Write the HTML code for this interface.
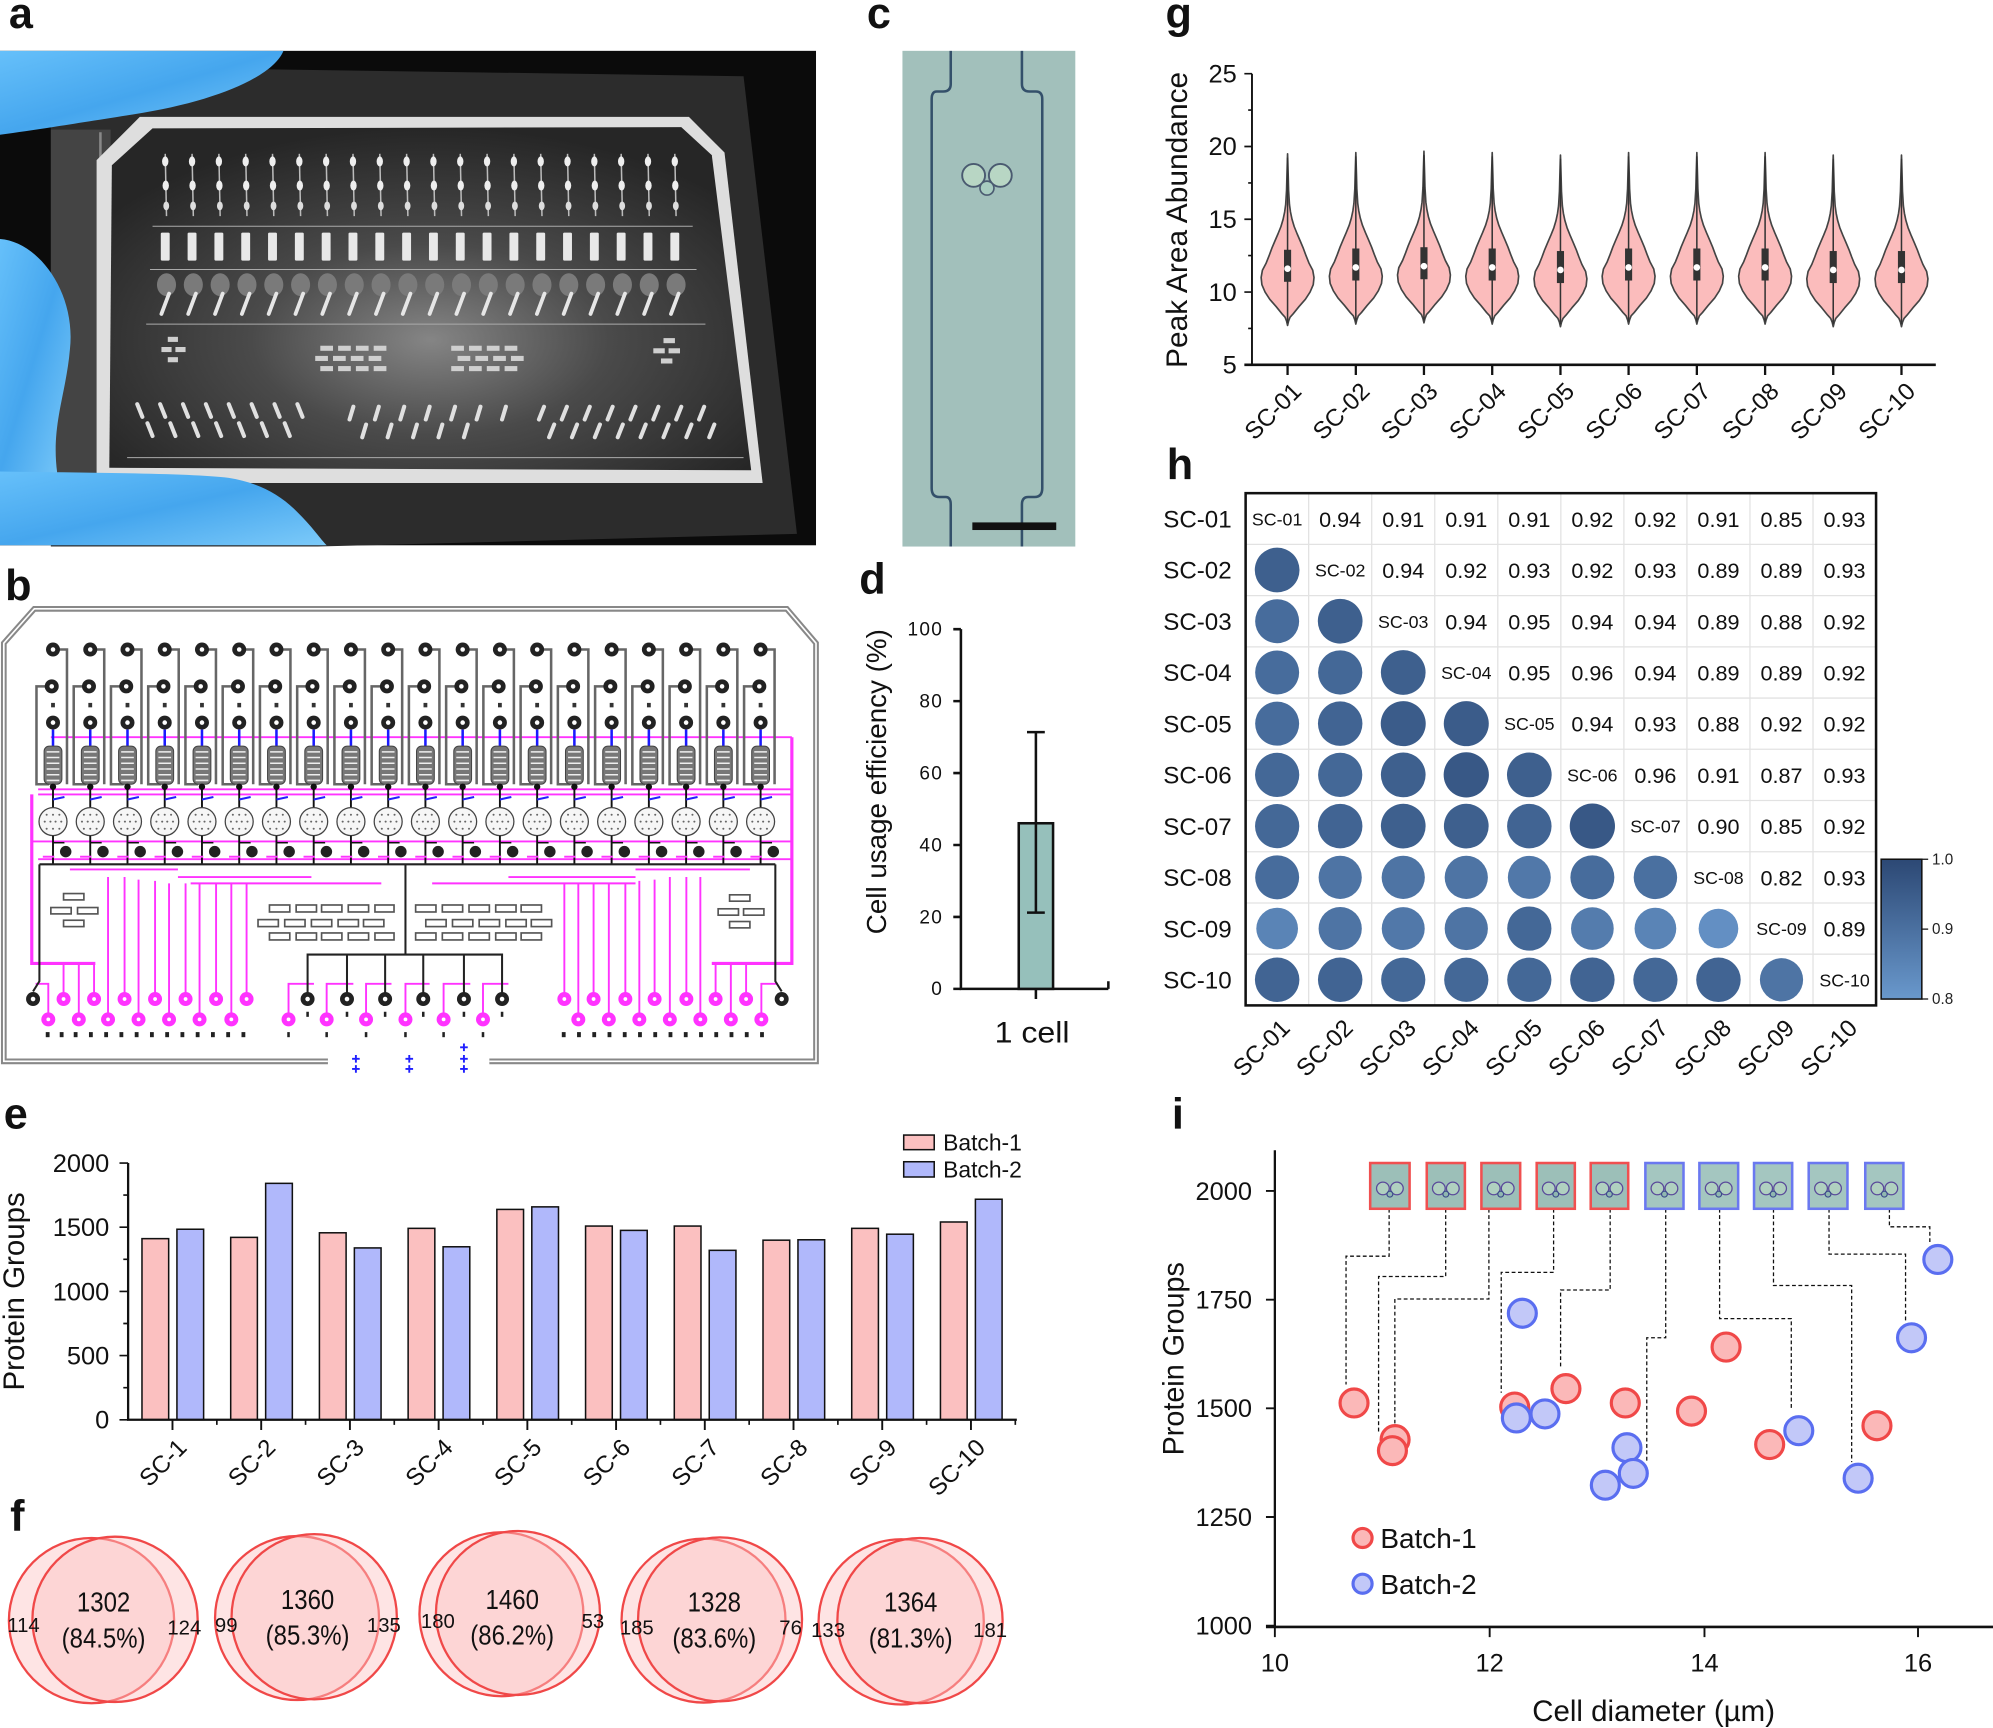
<!DOCTYPE html>
<html><head><meta charset="utf-8"><style>
html,body{margin:0;padding:0;background:#fff;overflow:hidden}
svg{display:block}
.n{font-family:"Liberation Sans Narrow","Liberation Sans",sans-serif}
.s{font-family:"Liberation Sans",sans-serif}
.L{font-family:"Liberation Sans",sans-serif;font-weight:bold;font-size:34px}
</style></head><body>
<svg width="1993" height="1728" viewBox="0 0 1568 1359.5" preserveAspectRatio="none" xmlns="http://www.w3.org/2000/svg" xmlns:xlink="http://www.w3.org/1999/xlink">
<defs>
<radialGradient id="chip" cx="0.5" cy="0.62" r="0.62">
<stop offset="0" stop-color="#858585"/><stop offset="0.45" stop-color="#4a4a4a"/><stop offset="1" stop-color="#262626"/>
</radialGradient>
<linearGradient id="glove" x1="0" y1="0" x2="1" y2="1">
<stop offset="0" stop-color="#66c0fa"/><stop offset="0.5" stop-color="#45a6ee"/><stop offset="1" stop-color="#7ccaf9"/>
</linearGradient>
<g id="acol">
<line x1="0" y1="121" x2="1" y2="170" stroke="#bbb" stroke-width="1.2"/>
<ellipse cx="0" cy="127" rx="2.5" ry="4" fill="#eee"/>
<ellipse cx="0.4" cy="146" rx="2.5" ry="4" fill="#eee"/>
<ellipse cx="0.8" cy="162" rx="2.3" ry="3.5" fill="#ddd"/>
<rect x="-3.5" y="183" width="7" height="22" rx="1" fill="#e8e8e8"/>
<ellipse cx="1" cy="224" rx="7.5" ry="9" fill="#7a7a7a"/>
<line x1="-3" y1="247" x2="3" y2="231" stroke="#e6e6e6" stroke-width="3" stroke-linecap="round"/>
</g>
<g id="bcol">
<path d="M5,511 H11 V617" fill="none" stroke="#666" stroke-width="2"/>
<path d="M-6,540 H-13 V617 H-3" fill="none" stroke="#666" stroke-width="2"/>
<circle cx="0" cy="511" r="5.5" fill="#222"/><circle cx="0" cy="511" r="1.8" fill="#fff"/>
<circle cx="-1" cy="540" r="5.5" fill="#222"/><circle cx="-1" cy="540" r="1.8" fill="#fff"/>
<rect x="-1.5" y="553" width="3" height="3.5" fill="#333"/>
<circle cx="0" cy="568.5" r="5.5" fill="#222"/><circle cx="0" cy="568.5" r="1.8" fill="#fff"/>
<line x1="0" y1="574" x2="0" y2="587" stroke="#1a1aff" stroke-width="2"/>
<rect x="-7" y="587" width="14" height="30" rx="4" fill="#777" stroke="#444" stroke-width="0.8"/>
<path d="M-5,591.5H5M-5,596H5M-5,600.5H5M-5,605H5M-5,609.5H5M-5,614H5" stroke="#eee" stroke-width="1.2"/>
<line x1="0" y1="619" x2="0" y2="636" stroke="#111" stroke-width="1.5"/>
<circle cx="0" cy="619" r="2.5" fill="#111"/>
<line x1="0" y1="629" x2="9" y2="627" stroke="#2222ff" stroke-width="1.6"/>
<ellipse cx="0" cy="646.4" rx="11" ry="11" fill="#f6f6f6" stroke="#444" stroke-width="1"/>
<g fill="#666"><circle cx="-5" cy="641" r="0.8"/><circle cx="0" cy="641" r="0.8"/><circle cx="5" cy="641" r="0.8"/><circle cx="-6.5" cy="646.4" r="0.8"/><circle cx="-2" cy="646.4" r="0.8"/><circle cx="2" cy="646.4" r="0.8"/><circle cx="6.5" cy="646.4" r="0.8"/><circle cx="-5" cy="652" r="0.8"/><circle cx="0" cy="652" r="0.8"/><circle cx="5" cy="652" r="0.8"/></g>
<line x1="0" y1="657.5" x2="0" y2="680" stroke="#111" stroke-width="1.5"/>
<path d="M0,663 H9" stroke="#111" stroke-width="1.2"/>
<circle cx="10" cy="670" r="4.5" fill="#222"/>
<line x1="-8" y1="674" x2="1" y2="674" stroke="#ff33ff" stroke-width="1.5"/>
</g>
<g id="bblk"><circle r="5.5" fill="#222"/><circle r="1.8" fill="#fff"/></g>
<g id="bmag"><circle r="5.5" fill="#ff33ff"/><circle r="1.5" fill="#fff"/></g>
<g id="vio">
<path d="M0,256 L0.8,252.6 L2,249.5 L4.4,246.9 L9,241.2 L14,235.5 L17.7,229.8 L20.2,224 L20.8,218.3 L19.8,212.6 L16.8,206.9 L14.5,201.1 L12.4,195.4 L10,189.7 L7.5,183.9 L5.2,178.2 L3.5,172.5 L2.3,166.8 L1.5,161 L0.8,149.6 L0.5,138.2 L0,121 L-0.5,138.2 L-0.8,149.6 L-1.5,161 L-2.3,166.8 L-3.5,172.5 L-5.2,178.2 L-7.5,183.9 L-10,189.7 L-12.4,195.4 L-14.5,201.1 L-16.8,206.9 L-19.8,212.6 L-20.8,218.3 L-20.2,224 L-17.7,229.8 L-14,235.5 L-9,241.2 L-4.4,246.9 L-2,249.5 L-0.8,252.6 Z" fill="#fbbcbc" stroke="#444" stroke-width="1.3" stroke-linejoin="round"/>
<line x1="0" y1="124" x2="0" y2="254" stroke="#333" stroke-width="1.2"/>
<rect x="-2.8" y="196.5" width="5.6" height="25.2" fill="#333"/>
<circle cx="0" cy="211.4" r="2.6" fill="#fff"/>
</g>
<g id="thumbin">
<circle cx="-5.5" cy="0" r="5" fill="#b0d0c0" stroke="#5a4a9a" stroke-width="1"/>
<circle cx="5.5" cy="0" r="5" fill="#b0d0c0" stroke="#5a4a9a" stroke-width="1"/>
<circle cx="0" cy="4.5" r="2.3" fill="#90b8b0" stroke="#3a4a8a" stroke-width="0.9"/>
</g>
<linearGradient id="cbar" x1="0" y1="0" x2="0" y2="1"><stop offset="0" stop-color="#2c4874"/><stop offset="1" stop-color="#6998cc"/></linearGradient>
</defs>

<!-- ===== Panel a ===== -->
<rect x="0" y="40" width="642" height="389" fill="#0b0b0b"/>
<polygon points="40,52 585,60 627,420 250,430 40,430" fill="#2c2c2c"/>
<polygon points="40,102 87,102 87,372 40,372" fill="#444"/>
<line x1="79" y1="104" x2="79" y2="370" stroke="#888" stroke-width="2"/>
<polygon points="110,92 542,92 570,120 600,380 76,380 76,126" fill="#dedede"/>
<polygon points="120,101 536,100 560,122 591,370 86,368 88,130" fill="url(#chip)"/>
<g stroke="#aaa" stroke-width="0.8" fill="none">
<path d="M120,178 H545 M118,212 H548 M115,255 H555 M100,360 H585"/>
</g>
<use xlink:href="#acol" x="130"/><use xlink:href="#acol" x="151.1"/><use xlink:href="#acol" x="172.2"/><use xlink:href="#acol" x="193.3"/><use xlink:href="#acol" x="214.4"/><use xlink:href="#acol" x="235.5"/><use xlink:href="#acol" x="256.6"/><use xlink:href="#acol" x="277.7"/><use xlink:href="#acol" x="298.8"/><use xlink:href="#acol" x="319.9"/><use xlink:href="#acol" x="341"/><use xlink:href="#acol" x="362.1"/><use xlink:href="#acol" x="383.2"/><use xlink:href="#acol" x="404.3"/><use xlink:href="#acol" x="425.4"/><use xlink:href="#acol" x="446.5"/><use xlink:href="#acol" x="467.6"/><use xlink:href="#acol" x="488.7"/><use xlink:href="#acol" x="509.8"/><use xlink:href="#acol" x="530.9"/>
<g fill="#cfcfcf">
<rect x="252" y="272" width="10" height="4"/><rect x="266" y="272" width="10" height="4"/><rect x="280" y="272" width="10" height="4"/><rect x="294" y="272" width="10" height="4"/>
<rect x="248" y="280" width="10" height="4"/><rect x="262" y="280" width="10" height="4"/><rect x="276" y="280" width="10" height="4"/><rect x="290" y="280" width="10" height="4"/>
<rect x="252" y="288" width="10" height="4"/><rect x="266" y="288" width="10" height="4"/><rect x="280" y="288" width="10" height="4"/><rect x="294" y="288" width="10" height="4"/>
<rect x="355" y="272" width="10" height="4"/><rect x="369" y="272" width="10" height="4"/><rect x="383" y="272" width="10" height="4"/><rect x="397" y="272" width="10" height="4"/>
<rect x="360" y="280" width="10" height="4"/><rect x="374" y="280" width="10" height="4"/><rect x="388" y="280" width="10" height="4"/><rect x="402" y="280" width="10" height="4"/>
<rect x="355" y="288" width="10" height="4"/><rect x="369" y="288" width="10" height="4"/><rect x="383" y="288" width="10" height="4"/><rect x="397" y="288" width="10" height="4"/>
<rect x="132" y="265" width="8" height="4"/><rect x="127" y="273" width="8" height="4"/><rect x="138" y="273" width="8" height="4"/><rect x="132" y="281" width="8" height="4"/>
<rect x="522" y="266" width="9" height="4"/><rect x="514" y="274" width="9" height="4"/><rect x="526" y="274" width="9" height="4"/><rect x="520" y="282" width="9" height="4"/>
</g>
<g stroke="#e0e0e0" stroke-width="3.2" stroke-linecap="round">
<path d="M108,318 l4,10 M126,318 l4,10 M144,318 l4,10 M162,318 l4,10 M180,318 l4,10 M198,318 l4,10 M216,318 l4,10 M234,318 l4,10"/>
<path d="M116,333 l4,10 M134,333 l4,10 M152,333 l4,10 M170,333 l4,10 M188,333 l4,10 M206,333 l4,10 M224,333 l4,10"/>
<path d="M278,320 l-3,10 M298,320 l-3,10 M318,320 l-3,10 M338,320 l-3,10 M358,320 l-3,10 M378,320 l-3,10 M398,320 l-3,10"/>
<path d="M288,334 l-3,10 M308,334 l-3,10 M328,334 l-3,10 M348,334 l-3,10 M368,334 l-3,10"/>
<path d="M428,320 l-4,10 M446,320 l-4,10 M464,320 l-4,10 M482,320 l-4,10 M500,320 l-4,10 M518,320 l-4,10 M536,320 l-4,10 M554,320 l-4,10"/>
<path d="M436,334 l-4,10 M454,334 l-4,10 M472,334 l-4,10 M490,334 l-4,10 M508,334 l-4,10 M526,334 l-4,10 M544,334 l-4,10 M562,334 l-4,10"/>
</g>
<path d="M0,40 H223 C215,60 170,80 105,90 C60,97 30,102 0,106 Z" fill="url(#glove)"/>
<path d="M0,188 C30,190 60,230 55,275 C52,310 40,335 45,372 L0,372 Z" fill="url(#glove)"/>
<path d="M0,371 C60,372 150,372 180,376 C205,380 222,390 236,405 C246,415 252,424 257,429 L0,429 Z" fill="url(#glove)"/>

<!-- ===== Panel c ===== -->
<rect x="710" y="40" width="136" height="390" fill="#a2c0bb"/>
<path d="M748,40 V66 Q748,72 742,72 H737 Q733,72 733,78 V384 Q733,391 739,391 H744 Q748,391 748,397 V430" fill="none" stroke="#34506a" stroke-width="2"/>
<path d="M804,40 V66 Q804,72 810,72 H815 Q820,72 820,78 V384 Q820,391 814,391 H809 Q804,391 804,397 V430" fill="none" stroke="#34506a" stroke-width="2"/>
<circle cx="766" cy="138" r="9" fill="#b8d6c4" stroke="#4a5a70" stroke-width="1.5"/>
<circle cx="787" cy="138" r="9" fill="#b8d6c4" stroke="#4a5a70" stroke-width="1.5"/>
<circle cx="776.5" cy="148" r="5.5" fill="#a8ccc0" stroke="#4a5a70" stroke-width="1.3"/>
<rect x="765" y="411" width="66" height="6" fill="#111"/>

<!-- ===== Panel b ===== -->
<path d="M258,835 H3 V506 L27,479 H619 L642,506 V835 H385" fill="none" stroke="#888" stroke-width="4.5"/>
<path d="M258,835 H3 V506 L27,479 H619 L642,506 V835 H385" fill="none" stroke="#fff" stroke-width="1.3"/>
<g stroke="#ff33ff" stroke-width="1.5" fill="none">
<path d="M40,580 H623 M30,621 H623 M30,625 H623 M25,662 H623 M30,676 H623"/>
<path d="M25,625 V758 H75 M623,580 V758 H560" stroke-width="2.5"/>
<path d="M55,684 H140 M140,690 H245 M150,695 H300 M500,684 H590 M400,690 H500 M340,695 H500"/>
<path d="M38,802 V774 H28 M50,786 V758 M62,802 V758 M74,786 V758 M85,802 V690 M98,786 V690 M109,802 V692 M122,786 V693 M133,802 V695 M146,786 V695 M157,802 V695 M170,786 V695 M182,802 V695 M194,786 V695"/>
<path d="M599,802 V774 H612 M587,786 V758 M575,802 V758 M563,786 V758 M551,802 V690 M540,786 V690 M527,802 V690 M515,786 V692 M503,802 V693 M492,786 V695 M479,802 V695 M467,786 V695 M455,802 V695 M444,786 V695"/>
<path d="M227,802 V774 H247 M257,802 V774 H278 M288,802 V774 H308 M319,802 V774 H338 M349,802 V774 H370 M380,802 V774 H400"/>
</g>
<use xlink:href="#bcol" x="41.7"/><use xlink:href="#bcol" x="71"/><use xlink:href="#bcol" x="100.3"/><use xlink:href="#bcol" x="129.6"/><use xlink:href="#bcol" x="158.9"/><use xlink:href="#bcol" x="188.2"/><use xlink:href="#bcol" x="217.5"/><use xlink:href="#bcol" x="246.8"/><use xlink:href="#bcol" x="276.1"/><use xlink:href="#bcol" x="305.4"/><use xlink:href="#bcol" x="334.7"/><use xlink:href="#bcol" x="364"/><use xlink:href="#bcol" x="393.3"/><use xlink:href="#bcol" x="422.6"/><use xlink:href="#bcol" x="451.9"/><use xlink:href="#bcol" x="481.2"/><use xlink:href="#bcol" x="510.5"/><use xlink:href="#bcol" x="539.8"/><use xlink:href="#bcol" x="569.1"/><use xlink:href="#bcol" x="598.4"/>
<g stroke="#222" stroke-width="1.6" fill="none">
<path d="M31,680 H610"/>
<path d="M319,680 V751 M242,781 V751 H395 V781 M273,751 V781 M303,751 V781 M333,751 V781 M365,751 V781"/>
<path d="M31,680 V772 L26,780 M610,680 V772 L615,780"/>
</g>
<g fill="#fff" stroke="#555" stroke-width="1.3">
<rect x="50" y="703" width="16" height="5"/><rect x="40" y="714" width="16" height="5"/><rect x="61" y="714" width="16" height="5"/><rect x="50" y="724" width="16" height="5"/>
<rect x="574" y="704" width="16" height="5"/><rect x="565" y="715" width="16" height="5"/><rect x="585" y="715" width="16" height="5"/><rect x="574" y="725" width="16" height="5"/>
<rect x="212" y="712" width="16" height="5.5"/><rect x="233" y="712" width="16" height="5.5"/><rect x="253" y="712" width="16" height="5.5"/><rect x="274" y="712" width="16" height="5.5"/><rect x="295" y="712" width="15" height="5.5"/>
<rect x="203" y="723.5" width="16" height="5.5"/><rect x="224" y="723.5" width="16" height="5.5"/><rect x="245" y="723.5" width="16" height="5.5"/><rect x="266" y="723.5" width="16" height="5.5"/><rect x="286" y="723.5" width="16" height="5.5"/>
<rect x="212" y="734" width="16" height="5.5"/><rect x="233" y="734" width="16" height="5.5"/><rect x="253" y="734" width="16" height="5.5"/><rect x="274" y="734" width="16" height="5.5"/><rect x="295" y="734" width="15" height="5.5"/>
<rect x="327" y="712" width="16" height="5.5"/><rect x="348" y="712" width="16" height="5.5"/><rect x="369" y="712" width="16" height="5.5"/><rect x="390" y="712" width="16" height="5.5"/><rect x="410" y="712" width="16" height="5.5"/>
<rect x="335" y="723.5" width="16" height="5.5"/><rect x="356" y="723.5" width="16" height="5.5"/><rect x="377" y="723.5" width="16" height="5.5"/><rect x="398" y="723.5" width="16" height="5.5"/><rect x="418" y="723.5" width="16" height="5.5"/>
<rect x="327" y="734" width="16" height="5.5"/><rect x="348" y="734" width="16" height="5.5"/><rect x="369" y="734" width="16" height="5.5"/><rect x="390" y="734" width="16" height="5.5"/><rect x="410" y="734" width="16" height="5.5"/>
</g>
<use xlink:href="#bblk" x="26" y="786"/><use xlink:href="#bblk" x="615" y="786"/>
<use xlink:href="#bblk" x="242" y="786"/><use xlink:href="#bblk" x="273" y="786"/><use xlink:href="#bblk" x="303" y="786"/><use xlink:href="#bblk" x="333" y="786"/><use xlink:href="#bblk" x="365" y="786"/><use xlink:href="#bblk" x="395" y="786"/>
<use xlink:href="#bmag" x="50" y="786"/><use xlink:href="#bmag" x="74" y="786"/><use xlink:href="#bmag" x="98" y="786"/><use xlink:href="#bmag" x="122" y="786"/><use xlink:href="#bmag" x="146" y="786"/><use xlink:href="#bmag" x="170" y="786"/><use xlink:href="#bmag" x="194" y="786"/>
<use xlink:href="#bmag" x="38" y="802"/><use xlink:href="#bmag" x="62" y="802"/><use xlink:href="#bmag" x="85" y="802"/><use xlink:href="#bmag" x="109" y="802"/><use xlink:href="#bmag" x="133" y="802"/><use xlink:href="#bmag" x="157" y="802"/><use xlink:href="#bmag" x="182" y="802"/>
<use xlink:href="#bmag" x="227" y="802"/><use xlink:href="#bmag" x="257" y="802"/><use xlink:href="#bmag" x="288" y="802"/><use xlink:href="#bmag" x="319" y="802"/><use xlink:href="#bmag" x="349" y="802"/><use xlink:href="#bmag" x="380" y="802"/>
<use xlink:href="#bmag" x="444" y="786"/><use xlink:href="#bmag" x="467" y="786"/><use xlink:href="#bmag" x="492" y="786"/><use xlink:href="#bmag" x="515" y="786"/><use xlink:href="#bmag" x="540" y="786"/><use xlink:href="#bmag" x="563" y="786"/><use xlink:href="#bmag" x="587" y="786"/>
<use xlink:href="#bmag" x="455" y="802"/><use xlink:href="#bmag" x="479" y="802"/><use xlink:href="#bmag" x="503" y="802"/><use xlink:href="#bmag" x="527" y="802"/><use xlink:href="#bmag" x="551" y="802"/><use xlink:href="#bmag" x="575" y="802"/><use xlink:href="#bmag" x="599" y="802"/>
<g fill="#222">
<rect x="36" y="812" width="3" height="4"/><rect x="47" y="812" width="3" height="4"/><rect x="58" y="812" width="3" height="4"/><rect x="70" y="812" width="3" height="4"/><rect x="82" y="812" width="3" height="4"/><rect x="94" y="812" width="3" height="4"/><rect x="106" y="812" width="3" height="4"/><rect x="118" y="812" width="3" height="4"/><rect x="130" y="812" width="3" height="4"/><rect x="142" y="812" width="3" height="4"/><rect x="154" y="812" width="3" height="4"/><rect x="166" y="812" width="3" height="4"/><rect x="178" y="812" width="3" height="4"/><rect x="190" y="812" width="3" height="4"/>
<rect x="226" y="812" width="2" height="4"/><rect x="256" y="812" width="2" height="4"/><rect x="287" y="812" width="2" height="4"/><rect x="318" y="812" width="2" height="4"/><rect x="348" y="812" width="2" height="4"/><rect x="379" y="812" width="2" height="4"/>
<rect x="241" y="796" width="2" height="4"/><rect x="272" y="796" width="2" height="4"/><rect x="302" y="796" width="2" height="4"/><rect x="332" y="796" width="2" height="4"/><rect x="364" y="796" width="2" height="4"/><rect x="394" y="796" width="2" height="4"/>
<rect x="442" y="812" width="3" height="4"/><rect x="454" y="812" width="3" height="4"/><rect x="466" y="812" width="3" height="4"/><rect x="478" y="812" width="3" height="4"/><rect x="490" y="812" width="3" height="4"/><rect x="502" y="812" width="3" height="4"/><rect x="514" y="812" width="3" height="4"/><rect x="526" y="812" width="3" height="4"/><rect x="538" y="812" width="3" height="4"/><rect x="550" y="812" width="3" height="4"/><rect x="562" y="812" width="3" height="4"/><rect x="574" y="812" width="3" height="4"/><rect x="586" y="812" width="3" height="4"/><rect x="598" y="812" width="3" height="4"/>
</g>
<g stroke="#2020ff" stroke-width="1.5">
<path d="M277,833 h6 M280,830 v6 M277,841 h6 M280,838 v6 M319,833 h6 M322,830 v6 M319,841 h6 M322,838 v6 M362,824 h6 M365,821 v6 M362,833 h6 M365,830 v6 M362,841 h6 M365,838 v6"/>
</g>

<!-- ===== Panel d ===== -->
<g stroke="#111" stroke-width="2" fill="none">
<path d="M756,495 V778 H872"/>
<path d="M750,495 H756 M750,551.6 H756 M750,608.2 H756 M750,664.8 H756 M750,721.4 H756 M750,778 H756 M815,778 V786 M872,778 V772"/>
</g>
<rect x="801.5" y="647.7" width="27" height="130.3" fill="#96c0bb" stroke="#111" stroke-width="2"/>
<path d="M815,576 V718 M808,576 H822 M808,718 H822" stroke="#111" stroke-width="2" fill="none"/>
<g class="s" font-size="15" text-anchor="end" fill="#111" letter-spacing="1">
<text x="742" y="500">100</text><text x="742" y="556.6">80</text><text x="742" y="613.2">60</text><text x="742" y="669.8">40</text><text x="742" y="726.4">20</text><text x="742" y="783">0</text>
</g>
<text class="s" x="812" y="820" font-size="23" text-anchor="middle" fill="#111" textLength="59" lengthAdjust="spacingAndGlyphs">1 cell</text>
<text class="n" transform="translate(697,615) rotate(-90)" font-size="22" text-anchor="middle" fill="#111" textLength="240" lengthAdjust="spacingAndGlyphs">Cell usage efficiency (%)</text>

<!-- ===== Panel g ===== -->
<use xlink:href="#vio" x="1013"/><use xlink:href="#vio" x="1066.7" y="-1"/><use xlink:href="#vio" x="1120.3" y="-2"/><use xlink:href="#vio" x="1174" y="-1"/><use xlink:href="#vio" x="1227.7" y="1"/><use xlink:href="#vio" x="1281.3" y="-1"/><use xlink:href="#vio" x="1335" y="-1"/><use xlink:href="#vio" x="1388.7" y="-1"/><use xlink:href="#vio" x="1442.3" y="1"/><use xlink:href="#vio" x="1496" y="1"/>
<g stroke="#111" fill="none">
<path d="M985,58 V287" stroke-width="1.5"/>
<path d="M979,287 H1523" stroke-width="2"/>
<path d="M979,58 H985 M979,115.25 H985 M979,172.5 H985 M979,229.75 H985 M982,86.6 H985 M982,143.9 H985 M982,201.1 H985 M982,258.4 H985" stroke-width="1.3"/>
<path d="M1013,287 v8 M1066.7,287 v8 M1120.3,287 v8 M1174,287 v8 M1227.7,287 v8 M1281.3,287 v8 M1335,287 v8 M1388.7,287 v8 M1442.3,287 v8 M1496,287 v8" stroke-width="1.8"/>
</g>
<g class="n" font-size="20" text-anchor="end" fill="#111">
<text x="973" y="65">25</text><text x="973" y="122">20</text><text x="973" y="179.5">15</text><text x="973" y="237">10</text><text x="973" y="294">5</text>
</g>
<text class="s" transform="translate(934,173) rotate(-90)" font-size="23" text-anchor="middle" fill="#111" textLength="233" lengthAdjust="spacingAndGlyphs">Peak Area Abundance</text>
<g class="s" font-size="19" text-anchor="end" fill="#111">
<text transform="translate(1025,309) rotate(-45)">SC-01</text>
<text transform="translate(1078.7,309) rotate(-45)">SC-02</text>
<text transform="translate(1132.3,309) rotate(-45)">SC-03</text>
<text transform="translate(1186,309) rotate(-45)">SC-04</text>
<text transform="translate(1239.7,309) rotate(-45)">SC-05</text>
<text transform="translate(1293.3,309) rotate(-45)">SC-06</text>
<text transform="translate(1347,309) rotate(-45)">SC-07</text>
<text transform="translate(1400.7,309) rotate(-45)">SC-08</text>
<text transform="translate(1454.3,309) rotate(-45)">SC-09</text>
<text transform="translate(1508,309) rotate(-45)">SC-10</text>
</g>

<!-- ===== Panel h ===== -->
<g stroke="#e2e2e2" stroke-width="1">
<path d="M1029.6,388 V791 M1079.2,388 V791 M1128.8,388 V791 M1178.4,388 V791 M1228,388 V791 M1277.6,388 V791 M1327.2,388 V791 M1376.8,388 V791 M1426.4,388 V791"/>
<path d="M980,428.3 H1476 M980,468.6 H1476 M980,508.9 H1476 M980,549.2 H1476 M980,589.5 H1476 M980,629.8 H1476 M980,670.1 H1476 M980,710.4 H1476 M980,750.7 H1476"/>
</g>
<rect x="980" y="388" width="496" height="403" fill="none" stroke="#111" stroke-width="2"/>
<g>
<circle cx="1004.8" cy="448.45" r="17.6" fill="#3e608e"/>
<circle cx="1004.8" cy="488.75" r="17.3" fill="#476c9c"/><circle cx="1054.4" cy="488.75" r="17.6" fill="#3e608e"/>
<circle cx="1004.8" cy="529.05" r="17.3" fill="#476c9c"/><circle cx="1054.4" cy="529.05" r="17.4" fill="#446897"/><circle cx="1104" cy="529.05" r="17.6" fill="#3e608e"/>
<circle cx="1004.8" cy="569.35" r="17.3" fill="#476c9c"/><circle cx="1054.4" cy="569.35" r="17.5" fill="#416493"/><circle cx="1104" cy="569.35" r="17.7" fill="#3b5c8a"/><circle cx="1153.6" cy="569.35" r="17.7" fill="#3b5c8a"/>
<circle cx="1004.8" cy="609.65" r="17.4" fill="#446897"/><circle cx="1054.4" cy="609.65" r="17.4" fill="#446897"/><circle cx="1104" cy="609.65" r="17.6" fill="#3e608e"/><circle cx="1153.6" cy="609.65" r="17.8" fill="#385886"/><circle cx="1203.2" cy="609.65" r="17.6" fill="#3e608e"/>
<circle cx="1004.8" cy="649.95" r="17.4" fill="#446897"/><circle cx="1054.4" cy="649.95" r="17.5" fill="#416493"/><circle cx="1104" cy="649.95" r="17.6" fill="#3e608e"/><circle cx="1153.6" cy="649.95" r="17.6" fill="#3e608e"/><circle cx="1203.2" cy="649.95" r="17.5" fill="#416493"/><circle cx="1252.8" cy="649.95" r="17.8" fill="#385886"/>
<circle cx="1004.8" cy="690.25" r="17.3" fill="#476c9c"/><circle cx="1054.4" cy="690.25" r="17" fill="#4e74a4"/><circle cx="1104" cy="690.25" r="17" fill="#4e74a4"/><circle cx="1153.6" cy="690.25" r="17" fill="#4e74a4"/><circle cx="1203.2" cy="690.25" r="16.9" fill="#5178a9"/><circle cx="1252.8" cy="690.25" r="17.3" fill="#476c9c"/><circle cx="1302.4" cy="690.25" r="17.1" fill="#4a70a0"/>
<circle cx="1004.8" cy="730.55" r="16.4" fill="#5a84b6"/><circle cx="1054.4" cy="730.55" r="17" fill="#4e74a4"/><circle cx="1104" cy="730.55" r="16.9" fill="#5178a9"/><circle cx="1153.6" cy="730.55" r="17" fill="#4e74a4"/><circle cx="1203.2" cy="730.55" r="17.4" fill="#446897"/><circle cx="1252.8" cy="730.55" r="16.8" fill="#547cad"/><circle cx="1302.4" cy="730.55" r="16.4" fill="#5a84b6"/><circle cx="1352" cy="730.55" r="15.6" fill="#638fc3"/>
<circle cx="1004.8" cy="770.85" r="17.5" fill="#416493"/><circle cx="1054.4" cy="770.85" r="17.5" fill="#416493"/><circle cx="1104" cy="770.85" r="17.4" fill="#446897"/><circle cx="1153.6" cy="770.85" r="17.4" fill="#446897"/><circle cx="1203.2" cy="770.85" r="17.4" fill="#446897"/><circle cx="1252.8" cy="770.85" r="17.5" fill="#416493"/><circle cx="1302.4" cy="770.85" r="17.4" fill="#446897"/><circle cx="1352" cy="770.85" r="17.5" fill="#416493"/><circle cx="1401.6" cy="770.85" r="17" fill="#4e74a4"/>
</g>
<g class="n" font-size="17" text-anchor="middle" fill="#111">
<text x="1054.4" y="414.5">0.94</text><text x="1104" y="414.5">0.91</text><text x="1153.6" y="414.5">0.91</text><text x="1203.2" y="414.5">0.91</text><text x="1252.8" y="414.5">0.92</text><text x="1302.4" y="414.5">0.92</text><text x="1352" y="414.5">0.91</text><text x="1401.6" y="414.5">0.85</text><text x="1451.2" y="414.5">0.93</text>
<text x="1104" y="454.8">0.94</text><text x="1153.6" y="454.8">0.92</text><text x="1203.2" y="454.8">0.93</text><text x="1252.8" y="454.8">0.92</text><text x="1302.4" y="454.8">0.93</text><text x="1352" y="454.8">0.89</text><text x="1401.6" y="454.8">0.89</text><text x="1451.2" y="454.8">0.93</text>
<text x="1153.6" y="495.1">0.94</text><text x="1203.2" y="495.1">0.95</text><text x="1252.8" y="495.1">0.94</text><text x="1302.4" y="495.1">0.94</text><text x="1352" y="495.1">0.89</text><text x="1401.6" y="495.1">0.88</text><text x="1451.2" y="495.1">0.92</text>
<text x="1203.2" y="535.4">0.95</text><text x="1252.8" y="535.4">0.96</text><text x="1302.4" y="535.4">0.94</text><text x="1352" y="535.4">0.89</text><text x="1401.6" y="535.4">0.89</text><text x="1451.2" y="535.4">0.92</text>
<text x="1252.8" y="575.7">0.94</text><text x="1302.4" y="575.7">0.93</text><text x="1352" y="575.7">0.88</text><text x="1401.6" y="575.7">0.92</text><text x="1451.2" y="575.7">0.92</text>
<text x="1302.4" y="616">0.96</text><text x="1352" y="616">0.91</text><text x="1401.6" y="616">0.87</text><text x="1451.2" y="616">0.93</text>
<text x="1352" y="656.3">0.90</text><text x="1401.6" y="656.3">0.85</text><text x="1451.2" y="656.3">0.92</text>
<text x="1401.6" y="696.6">0.82</text><text x="1451.2" y="696.6">0.93</text>
<text x="1451.2" y="736.9">0.89</text>
</g>
<g class="n" font-size="14" text-anchor="middle" fill="#111">
<text x="1004.8" y="413.3">SC-01</text><text x="1054.4" y="453.6">SC-02</text><text x="1104" y="493.9">SC-03</text><text x="1153.6" y="534.2">SC-04</text><text x="1203.2" y="574.5">SC-05</text><text x="1252.8" y="614.8">SC-06</text><text x="1302.4" y="655.1">SC-07</text><text x="1352" y="695.4">SC-08</text><text x="1401.6" y="735.7">SC-09</text><text x="1451.2" y="776">SC-10</text>
</g>
<g class="n" font-size="19" text-anchor="end" fill="#111">
<text x="969" y="415">SC-01</text><text x="969" y="455.3">SC-02</text><text x="969" y="495.6">SC-03</text><text x="969" y="535.9">SC-04</text><text x="969" y="576.2">SC-05</text><text x="969" y="616.5">SC-06</text><text x="969" y="656.8">SC-07</text><text x="969" y="697.1">SC-08</text><text x="969" y="737.4">SC-09</text><text x="969" y="777.7">SC-10</text>
</g>
<g class="n" font-size="19" text-anchor="end" fill="#111">
<text transform="translate(1016,810) rotate(-45)">SC-01</text>
<text transform="translate(1065.6,810) rotate(-45)">SC-02</text>
<text transform="translate(1115.2,810) rotate(-45)">SC-03</text>
<text transform="translate(1164.8,810) rotate(-45)">SC-04</text>
<text transform="translate(1214.4,810) rotate(-45)">SC-05</text>
<text transform="translate(1264,810) rotate(-45)">SC-06</text>
<text transform="translate(1313.6,810) rotate(-45)">SC-07</text>
<text transform="translate(1363.2,810) rotate(-45)">SC-08</text>
<text transform="translate(1412.8,810) rotate(-45)">SC-09</text>
<text transform="translate(1462.4,810) rotate(-45)">SC-10</text>
</g>
<rect x="1480" y="676" width="32" height="110" fill="url(#cbar)" stroke="#111" stroke-width="1.2"/>
<path d="M1512,676 h5 M1512,731 h5 M1512,786 h5" stroke="#111" stroke-width="1"/>
<g class="n" font-size="12" fill="#222"><text x="1520" y="680">1.0</text><text x="1520" y="735">0.9</text><text x="1520" y="790">0.8</text></g>

<!-- ===== Panel e ===== -->
<g stroke="#111" stroke-width="1.2">
<rect x="111.7" y="974.5" width="21" height="142.5" fill="#fbc0c0"/><rect x="139.2" y="967.1" width="21" height="149.9" fill="#b0b8fb"/>
<rect x="181.5" y="973.5" width="21" height="143.5" fill="#fbc0c0"/><rect x="209" y="931" width="21" height="186" fill="#b0b8fb"/>
<rect x="251.3" y="969.9" width="21" height="147.1" fill="#fbc0c0"/><rect x="278.8" y="981.8" width="21" height="135.2" fill="#b0b8fb"/>
<rect x="321.1" y="966.4" width="21" height="150.6" fill="#fbc0c0"/><rect x="348.6" y="980.9" width="21" height="136.1" fill="#b0b8fb"/>
<rect x="390.9" y="951.5" width="21" height="165.5" fill="#fbc0c0"/><rect x="418.4" y="949.5" width="21" height="167.5" fill="#b0b8fb"/>
<rect x="460.7" y="964.6" width="21" height="152.4" fill="#fbc0c0"/><rect x="488.2" y="968" width="21" height="149" fill="#b0b8fb"/>
<rect x="530.5" y="964.6" width="21" height="152.4" fill="#fbc0c0"/><rect x="558" y="983.7" width="21" height="133.3" fill="#b0b8fb"/>
<rect x="600.3" y="975.7" width="21" height="141.3" fill="#fbc0c0"/><rect x="627.8" y="975.4" width="21" height="141.6" fill="#b0b8fb"/>
<rect x="670.1" y="966.4" width="21" height="150.6" fill="#fbc0c0"/><rect x="697.6" y="971" width="21" height="146" fill="#b0b8fb"/>
<rect x="739.9" y="961.4" width="21" height="155.6" fill="#fbc0c0"/><rect x="767.4" y="943.5" width="21" height="173.5" fill="#b0b8fb"/>
</g>
<g stroke="#111" fill="none">
<path d="M100.8,915 V1117 H800" stroke-width="1.8"/>
<path d="M94,915 H100.8 M94,965.5 H100.8 M94,1016 H100.8 M94,1066.5 H100.8 M94,1117 H100.8 M97,940.25 H100.8 M97,990.75 H100.8 M97,1041.25 H100.8 M97,1091.75 H100.8" stroke-width="1.3"/>
<path d="M135.7,1117 v8 M205.5,1117 v8 M275.3,1117 v8 M345.1,1117 v8 M414.9,1117 v8 M484.7,1117 v8 M554.5,1117 v8 M624.3,1117 v8 M694.1,1117 v8 M763.9,1117 v8" stroke-width="1.5"/>
<path d="M170.6,1117 v4 M240.4,1117 v4 M310.2,1117 v4 M380,1117 v4 M449.8,1117 v4 M519.6,1117 v4 M589.4,1117 v4 M659.2,1117 v4 M729,1117 v4 M798.8,1117 v4" stroke-width="1.3"/>
</g>
<g class="n" font-size="20" text-anchor="end" fill="#111">
<text x="86" y="922">2000</text><text x="86" y="972.5">1500</text><text x="86" y="1023">1000</text><text x="86" y="1073.5">500</text><text x="86" y="1124">0</text>
</g>
<text class="s" transform="translate(19,1016) rotate(-90)" font-size="23" text-anchor="middle" fill="#111" textLength="156" lengthAdjust="spacingAndGlyphs">Protein Groups</text>
<g class="s" font-size="19" text-anchor="end" fill="#111">
<text transform="translate(148,1140) rotate(-45)">SC-1</text>
<text transform="translate(217.8,1140) rotate(-45)">SC-2</text>
<text transform="translate(287.6,1140) rotate(-45)">SC-3</text>
<text transform="translate(357.4,1140) rotate(-45)">SC-4</text>
<text transform="translate(427.2,1140) rotate(-45)">SC-5</text>
<text transform="translate(497,1140) rotate(-45)">SC-6</text>
<text transform="translate(566.8,1140) rotate(-45)">SC-7</text>
<text transform="translate(636.6,1140) rotate(-45)">SC-8</text>
<text transform="translate(706.4,1140) rotate(-45)">SC-9</text>
<text transform="translate(776.2,1140) rotate(-45)">SC-10</text>
</g>
<rect x="711" y="893" width="24" height="11.5" fill="#fbc0c0" stroke="#111" stroke-width="1.2"/>
<rect x="711" y="914" width="24" height="12" fill="#b0b8fb" stroke="#111" stroke-width="1.2"/>
<g class="n" font-size="18" fill="#111"><text x="742" y="905">Batch-1</text><text x="742" y="926.5">Batch-2</text></g>

<!-- ===== Panel f ===== -->
<g fill="rgba(252,196,196,0.45)" stroke="#f04848" stroke-width="1.8">
<circle cx="72" cy="1275" r="65"/><circle cx="90.5" cy="1274" r="65"/>
<circle cx="233.7" cy="1273" r="64.5"/><circle cx="247.2" cy="1272" r="65"/>
<circle cx="394.5" cy="1270" r="64.5"/><circle cx="407.5" cy="1269" r="64.5"/>
<circle cx="553.5" cy="1275" r="64.5"/><circle cx="566.5" cy="1274" r="64.5"/>
<circle cx="709" cy="1276" r="65"/><circle cx="723.8" cy="1275" r="65"/>
</g>
<g class="n" font-size="22" text-anchor="middle" fill="#111">
<text x="81.5" y="1268" textLength="42" lengthAdjust="spacingAndGlyphs">1302</text><text x="81.5" y="1296" textLength="66" lengthAdjust="spacingAndGlyphs">(84.5%)</text>
<text x="242" y="1266" textLength="42" lengthAdjust="spacingAndGlyphs">1360</text><text x="242" y="1294" textLength="66" lengthAdjust="spacingAndGlyphs">(85.3%)</text>
<text x="403" y="1266" textLength="42" lengthAdjust="spacingAndGlyphs">1460</text><text x="403" y="1294" textLength="66" lengthAdjust="spacingAndGlyphs">(86.2%)</text>
<text x="562" y="1268" textLength="42" lengthAdjust="spacingAndGlyphs">1328</text><text x="562" y="1296" textLength="66" lengthAdjust="spacingAndGlyphs">(83.6%)</text>
<text x="716.5" y="1268" textLength="42" lengthAdjust="spacingAndGlyphs">1364</text><text x="716.5" y="1296" textLength="66" lengthAdjust="spacingAndGlyphs">(81.3%)</text>
</g>
<g class="n" font-size="16" text-anchor="middle" fill="#111">
<text x="18.5" y="1284">114</text><text x="145" y="1286">124</text>
<text x="178" y="1284">99</text><text x="302" y="1284">135</text>
<text x="344.5" y="1281">180</text><text x="466.5" y="1281">53</text>
<text x="501" y="1286">185</text><text x="622" y="1286">76</text>
<text x="651.5" y="1288">133</text><text x="779" y="1288">181</text>
</g>

<!-- ===== Panel i ===== -->
<g fill="none" stroke="#111" stroke-width="1" stroke-dasharray="3,2">
<path d="M1092.9,951 V988.3 H1059 V1089.3"/>
<path d="M1137.4,951 V1004.3 H1084.6 V1127.8"/>
<path d="M1171.4,951 V1022 H1097.4 V1119.8"/>
<path d="M1222.3,951 V1001 H1181.1 V1095.7"/>
<path d="M1266.8,951 V1014.9 H1227.8 V1076.5"/>
<path d="M1310.5,951 V1052.5 H1295.6 V1150.3"/>
<path d="M1352.9,951 V1037.4 H1409.3 V1108.6"/>
<path d="M1395.3,951 V1011.4 H1456.8 V1150.3"/>
<path d="M1439,951 V986.7 H1499.2 V1039.6"/>
<path d="M1486.5,951 V965.2 H1518.3 V977.1"/>
</g>
<g stroke-width="2">
<rect x="1078" y="915" width="31" height="36" fill="#9cbfb8" stroke="#f05050"/>
<rect x="1122.5" y="915" width="30" height="36" fill="#9cbfb8" stroke="#f05050"/>
<rect x="1165.5" y="915" width="30.5" height="36" fill="#9cbfb8" stroke="#f05050"/>
<rect x="1209" y="915" width="30" height="36" fill="#9cbfb8" stroke="#f05050"/>
<rect x="1251.5" y="915" width="29.5" height="36" fill="#9cbfb8" stroke="#f05050"/>
<rect x="1294.5" y="915" width="30" height="36" fill="#a4c6c0" stroke="#6a78f0"/>
<rect x="1337" y="915" width="30.5" height="36" fill="#a4c6c0" stroke="#6a78f0"/>
<rect x="1380" y="915" width="30" height="36" fill="#a4c6c0" stroke="#6a78f0"/>
<rect x="1423" y="915" width="30.5" height="36" fill="#a4c6c0" stroke="#6a78f0"/>
<rect x="1467.5" y="915" width="30" height="36" fill="#a4c6c0" stroke="#6a78f0"/>
</g>
<use xlink:href="#thumbin" x="1093.5" y="935"/><use xlink:href="#thumbin" x="1137.5" y="935"/><use xlink:href="#thumbin" x="1180.7" y="935"/><use xlink:href="#thumbin" x="1224" y="935"/><use xlink:href="#thumbin" x="1266.2" y="935"/><use xlink:href="#thumbin" x="1309.5" y="935"/><use xlink:href="#thumbin" x="1352.2" y="935"/><use xlink:href="#thumbin" x="1395" y="935"/><use xlink:href="#thumbin" x="1438.2" y="935"/><use xlink:href="#thumbin" x="1482.5" y="935"/>
<g fill="#fbb8b8" stroke="#f04848" stroke-width="2.5">
<circle cx="1065.3" cy="1103.8" r="11"/><circle cx="1097.6" cy="1132.6" r="11"/><circle cx="1095.5" cy="1141.3" r="11"/><circle cx="1191.7" cy="1107" r="11"/><circle cx="1232" cy="1092.5" r="11"/><circle cx="1278.7" cy="1103.8" r="11"/><circle cx="1330.8" cy="1110.2" r="11"/><circle cx="1358" cy="1059.8" r="11"/><circle cx="1392.3" cy="1136.5" r="11"/><circle cx="1476.7" cy="1121.7" r="11"/>
</g>
<g fill="#c2c8f8" stroke="#5a6ef0" stroke-width="2.5">
<circle cx="1197.7" cy="1033.2" r="11"/><circle cx="1193" cy="1115.6" r="11"/><circle cx="1215.5" cy="1112.4" r="11"/><circle cx="1280" cy="1139" r="11"/><circle cx="1263" cy="1168.5" r="11"/><circle cx="1285" cy="1159.2" r="11"/><circle cx="1415.2" cy="1125.6" r="11"/><circle cx="1461.9" cy="1163" r="11"/><circle cx="1503.9" cy="1052.5" r="11"/><circle cx="1524.6" cy="990.9" r="11"/>
</g>
<g stroke="#111" fill="none">
<path d="M1003,905 V1280" stroke-width="1.8"/>
<path d="M996,1280 H1568" stroke-width="2"/>
<path d="M996,937 H1003 M996,1022.5 H1003 M996,1108 H1003 M996,1193.5 H1003 M996,1279 H1003" stroke-width="1.5"/>
<path d="M1003,1280 v8 M1172,1280 v8 M1341,1280 v8 M1509,1280 v8" stroke-width="1.5"/>
</g>
<g class="n" font-size="20" text-anchor="end" fill="#111">
<text x="985" y="944">2000</text><text x="985" y="1029.5">1750</text><text x="985" y="1115">1500</text><text x="985" y="1200.5">1250</text><text x="985" y="1286">1000</text>
</g>
<g class="n" font-size="20" text-anchor="middle" fill="#111">
<text x="1003" y="1315">10</text><text x="1172" y="1315">12</text><text x="1341" y="1315">14</text><text x="1509" y="1315">16</text>
</g>
<text class="s" transform="translate(931,1069) rotate(-90)" font-size="23" text-anchor="middle" fill="#111" textLength="152" lengthAdjust="spacingAndGlyphs">Protein Groups</text>
<text class="n" x="1301" y="1354" font-size="23" text-anchor="middle" fill="#111" textLength="191" lengthAdjust="spacingAndGlyphs">Cell diameter (µm)</text>
<circle cx="1072" cy="1210" r="7.5" fill="#fbb8b8" stroke="#f04848" stroke-width="2.5"/>
<circle cx="1072" cy="1246" r="7.5" fill="#c2c8f8" stroke="#5a6ef0" stroke-width="2.5"/>
<g class="n" font-size="22" fill="#111"><text x="1086" y="1218">Batch-1</text><text x="1086" y="1254">Batch-2</text></g>

<!-- panel labels -->
<g class="L" fill="#111">
<text x="7" y="22">a</text><text x="682" y="22">c</text><text x="917" y="22">g</text>
<text x="4" y="472">b</text><text x="676" y="467">d</text><text x="918" y="377">h</text>
<text x="3" y="888">e</text><text x="8" y="1204">f</text><text x="922" y="888">i</text>
</g>
</svg>
</body></html>
